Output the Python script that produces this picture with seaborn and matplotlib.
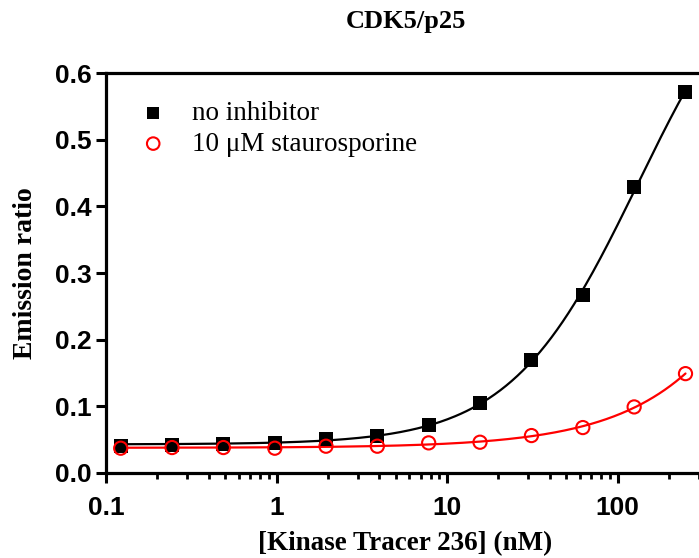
import numpy as np
import pandas as pd
import matplotlib
matplotlib.use("Agg")
import matplotlib.pyplot as plt
import seaborn as sns
from matplotlib.ticker import FixedLocator, FixedFormatter, NullFormatter, LogLocator

# ---- data ----
conc = [0.122, 0.244, 0.488, 0.977, 1.95, 3.9, 7.8, 15.6, 31.25, 62.5, 125, 250]
no_inhibitor = [0.041, 0.042, 0.044, 0.045, 0.051, 0.056, 0.072, 0.105, 0.169, 0.267, 0.430, 0.572]
staurosporine = [0.037, 0.038, 0.038, 0.037, 0.040, 0.040, 0.045, 0.046, 0.056, 0.068, 0.099, 0.149]
series_names = ["no inhibitor", "10 \u03bcM staurosporine"]
series_colors = ["black", "red"]
x_ticks = [0.1, 1, 10, 100]
x_tick_labels = ["0.1", "1", "10", "100"]
y_ticks = [0.0, 0.1, 0.2, 0.3, 0.4, 0.5, 0.6]
y_tick_labels = ["0.0", "0.1", "0.2", "0.3", "0.4", "0.5", "0.6"]
title = "CDK5/p25"
x_label = "[Kinase Tracer 236] (nM)"
y_label = "Emission ratio"


def fit_4pl(x, y):
    """Least-squares 4-parameter logistic fit (grid over EC50/hill, linear for bottom/span)."""
    x = np.asarray(x, float)
    y = np.asarray(y, float)
    best = None
    for lec in np.arange(0.0, 4.5, 0.01):
        ec = 10 ** lec
        for h in np.arange(0.5, 3.01, 0.02):
            f = 1.0 / (1.0 + (ec / x) ** h)
            A = np.column_stack([np.ones_like(f), f])
            coef, *_ = np.linalg.lstsq(A, y, rcond=None)
            r = np.sum((A @ coef - y) ** 2)
            if best is None or r < best[0]:
                best = (r, ec, h, coef)
    _, ec, h, coef = best
    return lambda xx: coef[0] + coef[1] / (1.0 + (ec / xx) ** h)


sns.set_theme(style="ticks")
plt.rcParams["font.family"] = ["Liberation Sans", "DejaVu Sans"]
plt.rcParams["text.color"] = "black"
plt.rcParams["axes.labelcolor"] = "black"
plt.rcParams["xtick.color"] = "black"
plt.rcParams["ytick.color"] = "black"

fig = plt.figure(figsize=(6.99, 5.58), dpi=100)
ax = fig.add_axes([0.1516, 0.1526, 0.8484, 0.716])

points = pd.DataFrame({
    "conc": conc * 2,
    "ratio": no_inhibitor + staurosporine,
    "series": [series_names[0]] * len(conc) + [series_names[1]] * len(conc),
})

xs = np.logspace(np.log10(conc[0]), np.log10(conc[-1]), 300)
curves = []
for name, vals in zip(series_names, [no_inhibitor, staurosporine]):
    f = fit_4pl(conc, vals)
    curves.append(pd.DataFrame({"conc": xs, "ratio": f(xs), "series": name}))
curves = pd.concat(curves)

palette = dict(zip(series_names, series_colors))
sns.lineplot(data=curves, x="conc", y="ratio", hue="series", palette=palette,
             linewidth=1.6, legend=False, ax=ax, sort=False)

sns.scatterplot(data=points[points.series == series_names[0]], x="conc", y="ratio",
                marker="s", s=95, color="black", edgecolor="black", linewidth=0,
                ax=ax, label=series_names[0], zorder=3)
sns.scatterplot(data=points[points.series == series_names[1]], x="conc", y="ratio",
                marker="o", s=90, facecolor="none", edgecolor="red", linewidth=1.5,
                ax=ax, label=series_names[1], zorder=4)

ax.set_xscale("log")
ax.set_xlim(0.1, 300)
ax.set_ylim(0.0, 0.6)

ax.xaxis.set_major_locator(FixedLocator(x_ticks))
ax.xaxis.set_major_formatter(FixedFormatter(x_tick_labels))
ax.xaxis.set_minor_locator(LogLocator(base=10, subs=np.arange(2, 10)))
ax.xaxis.set_minor_formatter(NullFormatter())
ax.yaxis.set_major_locator(FixedLocator(y_ticks))
ax.yaxis.set_major_formatter(FixedFormatter(y_tick_labels))

for side in ["left", "bottom", "top"]:
    ax.spines[side].set_linewidth(2.3)
    ax.spines[side].set_color("black")
ax.spines["right"].set_visible(False)

ax.tick_params(axis="both", which="major", direction="out", length=7, width=2.2,
               labelsize=19, colors="black")
ax.tick_params(axis="x", which="major", pad=10)
ax.tick_params(axis="y", which="major", pad=3)
ax.tick_params(axis="x", which="minor", direction="out", length=4.5, width=2.0)
ax.tick_params(top=False, right=False, which="both")
for lab in ax.get_xticklabels() + ax.get_yticklabels():
    lab.set_fontweight("bold")
    lab.set_family(["Liberation Sans", "DejaVu Sans"])

serif = ["Liberation Serif", "DejaVu Serif"]
ax.set_xlabel(x_label, fontsize=19.5, fontweight="bold", family=serif)
ax.xaxis.set_label_coords(0.505, -0.146)
ax.set_ylabel(y_label, fontsize=20, fontweight="bold", family=serif)
ax.yaxis.set_label_coords(-0.115, 0.5)
fig.text(0.581, 0.962, title, ha="center", va="center", fontsize=19,
         fontweight="bold", family=serif)

leg = ax.legend(loc="upper left", bbox_to_anchor=(0.034, 0.93), frameon=False,
                prop={"family": serif, "size": 19.5}, handletextpad=0.45,
                handlelength=2.0, labelspacing=0.2, markerscale=0.95,
                borderaxespad=0.0, borderpad=0.0)

fig.savefig("out.png", dpi=100)
